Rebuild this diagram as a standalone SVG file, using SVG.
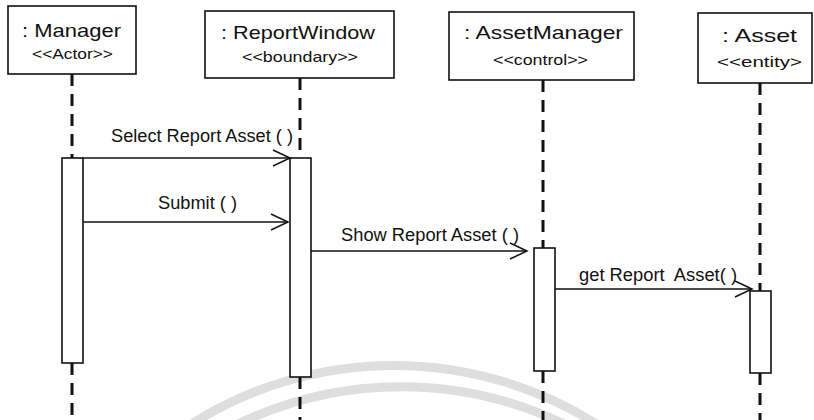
<svg xmlns="http://www.w3.org/2000/svg" width="814" height="420" viewBox="0 0 814 420">
  <style>
    .box { fill: #ffffff; stroke: #111111; stroke-width: 1.6; }
    .act { fill: #ffffff; stroke: #111111; stroke-width: 1.6; }
    .life { fill: none; stroke: #111111; stroke-width: 3; stroke-dasharray: 12 8; }
    .msg { fill: none; stroke: #111111; stroke-width: 1.4; }
    .title { font-family: "Liberation Sans", Arial, sans-serif; font-size: 19px; fill: #111111; }
    .stereo { font-family: "Liberation Sans", Arial, sans-serif; font-size: 15px; fill: #111111; }
    .label { font-family: "Liberation Sans", Arial, sans-serif; font-size: 17.5px; fill: #111111; white-space: pre; }
    .mark { fill: none; stroke: #dedede; stroke-width: 9; }
  </style>
  <defs>
    <marker id="open" markerUnits="userSpaceOnUse" markerWidth="22" markerHeight="22" refX="18" refY="9" orient="auto">
      <path d="M1,1 L18,9 L1,17" fill="none" stroke="#111111" stroke-width="1.5"/>
    </marker>
  </defs>

  <rect width="814" height="420" fill="#ffffff"/>

  <!-- faint background arcs -->
  <g id="backdrop">
    <path class="mark" d="M190,425 A379,379 0 0 1 598,425"/>
    <path class="mark" d="M236,425 A374,374 0 0 1 566,425" stroke-width="8"/>
  </g>

  <!-- lifelines -->
  <g id="lifelines">
    <line class="life" x1="72" y1="74" x2="72" y2="158"/>
    <line class="life" x1="72" y1="363" x2="72" y2="420"/>
    <line class="life" x1="300" y1="78" x2="300" y2="158"/>
    <line class="life" x1="300" y1="377" x2="300" y2="420"/>
    <line class="life" x1="543" y1="80" x2="543" y2="248"/>
    <line class="life" x1="543" y1="371" x2="543" y2="420"/>
    <line class="life" x1="760" y1="83" x2="760" y2="291"/>
    <line class="life" x1="760" y1="373" x2="760" y2="420"/>
  </g>

  <g id="manager">
    <rect class="box" x="8" y="6" width="128" height="68"/>
    <text class="title" x="22" y="37" textLength="99" lengthAdjust="spacingAndGlyphs">: Manager</text>
    <text class="stereo" x="32" y="59" textLength="81" lengthAdjust="spacingAndGlyphs">&lt;&lt;Actor&gt;&gt;</text>
    <rect class="act" x="62" y="158" width="21" height="205"/>
  </g>

  <g id="reportWindow">
    <rect class="box" x="205" y="11" width="189" height="67"/>
    <text class="title" x="221" y="39" textLength="154" lengthAdjust="spacingAndGlyphs">: ReportWindow</text>
    <text class="stereo" x="242" y="62" textLength="116" lengthAdjust="spacingAndGlyphs">&lt;&lt;boundary&gt;&gt;</text>
    <rect class="act" x="290" y="158" width="21" height="219"/>
  </g>

  <g id="assetManager">
    <rect class="box" x="449" y="12" width="185" height="68"/>
    <text class="title" x="464" y="39" textLength="159" lengthAdjust="spacingAndGlyphs">: AssetManager</text>
    <text class="stereo" x="493" y="65" textLength="95" lengthAdjust="spacingAndGlyphs">&lt;&lt;control&gt;&gt;</text>
    <rect class="act" x="534" y="248" width="21" height="123"/>
  </g>

  <g id="asset">
    <rect class="box" x="698" y="13" width="114" height="70"/>
    <text class="title" x="722" y="42" textLength="75" lengthAdjust="spacingAndGlyphs">: Asset</text>
    <text class="stereo" x="717" y="67" textLength="85" lengthAdjust="spacingAndGlyphs">&lt;&lt;entity&gt;</text>
    <rect class="act" x="750" y="291" width="21" height="82"/>
  </g>

  <!-- messages -->
  <g id="messages">
    <line class="msg" x1="83" y1="158" x2="290" y2="158" marker-end="url(#open)"/>
    <text class="label" x="111" y="142" textLength="182" lengthAdjust="spacingAndGlyphs">Select Report Asset ( )</text>

    <line class="msg" x1="83" y1="222" x2="288" y2="222" marker-end="url(#open)"/>
    <text class="label" x="158" y="209" textLength="79" lengthAdjust="spacingAndGlyphs">Submit ( )</text>

    <line class="msg" x1="311" y1="251" x2="527" y2="251" marker-end="url(#open)"/>
    <text class="label" x="341" y="241" textLength="178" lengthAdjust="spacingAndGlyphs">Show Report Asset ( )</text>

    <line class="msg" x1="555" y1="289" x2="752" y2="289" marker-end="url(#open)"/>
    <text class="label" x="579" y="281" textLength="158" lengthAdjust="spacingAndGlyphs">get Report  Asset( )</text>
  </g>
</svg>
